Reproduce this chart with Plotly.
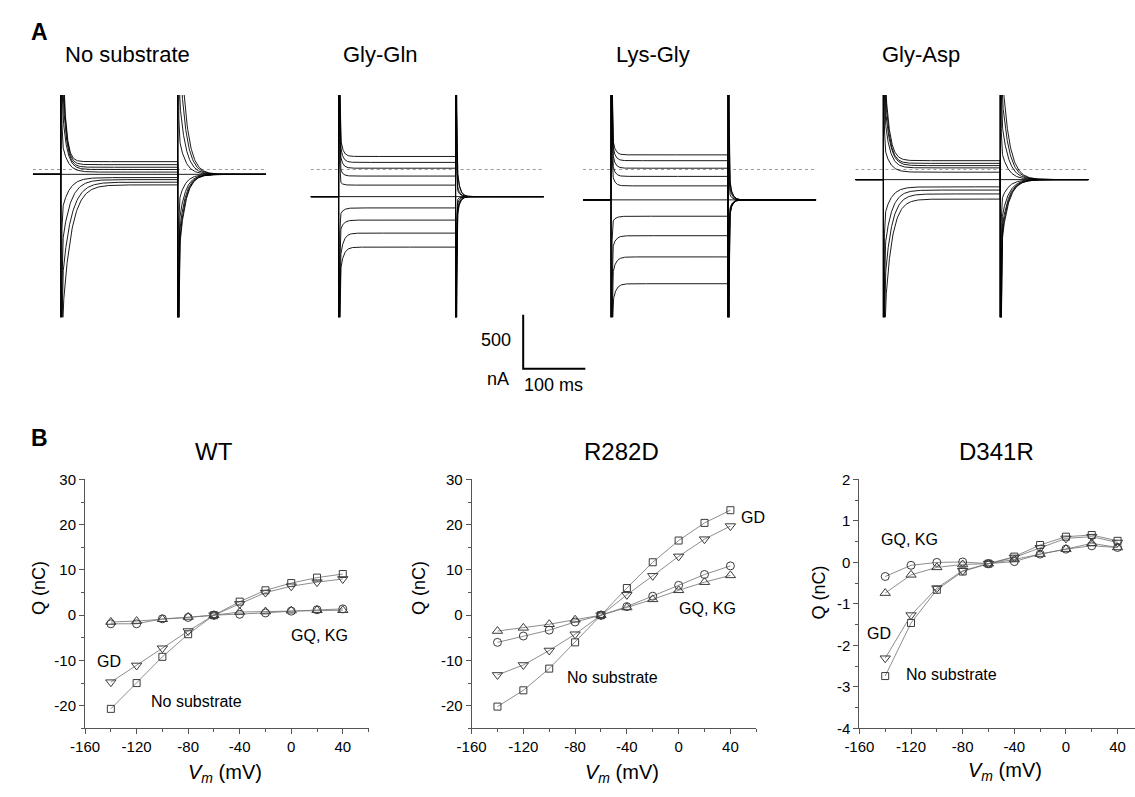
import numpy as np
import plotly.graph_objects as go

W, H = 1135, 797
FONT = "Liberation Sans, Arial, Helvetica, sans-serif"
AXC = "#555555"

# ---------------- Panel B data: charge vs. membrane potential ----------------
VM = [-140, -120, -100, -80, -60, -40, -20, 0, 20, 40]

WT_NONE = [-20.7, -15.0, -9.2, -4.2, 0.0, 3.0, 5.5, 7.1, 8.3, 9.1]
WT_GD = [-14.8, -11.1, -7.3, -3.5, 0.0, 2.5, 5.0, 6.4, 7.3, 8.0]
WT_GQ = [-1.9, -1.9, -0.8, -0.5, 0.0, 0.2, 0.5, 0.9, 1.2, 1.4]
WT_KG = [-1.5, -1.3, -0.9, -0.4, 0.0, 0.7, 0.8, 1.0, 1.1, 1.1]

R282D_NONE = [-20.2, -16.6, -11.8, -6.0, 0.0, 6.0, 11.7, 16.5, 20.4, 23.2]
R282D_GD = [-13.2, -11.0, -7.8, -4.2, 0.0, 4.5, 8.7, 13.0, 16.8, 19.7]
R282D_GQ = [-6.0, -4.6, -3.3, -1.5, 0.0, 1.9, 4.2, 6.6, 9.0, 10.9]
R282D_KG = [-3.5, -2.8, -2.0, -1.0, 0.0, 1.7, 3.5, 5.5, 7.3, 8.8]

D341R_NONE = [-2.74, -1.46, -0.66, -0.22, -0.03, 0.14, 0.42, 0.62, 0.66, 0.52]
D341R_GD = [-2.31, -1.27, -0.62, -0.20, -0.03, 0.12, 0.35, 0.58, 0.62, 0.48]
D341R_GQ = [-0.34, -0.07, 0.00, 0.01, -0.03, 0.02, 0.20, 0.32, 0.40, 0.36]
D341R_KG = [-0.74, -0.30, -0.12, -0.05, -0.03, 0.07, 0.20, 0.32, 0.46, 0.36]

# ---------------- Panel A data: current recordings (WT oocyte) ----------------
STEP_MV = [40, 20, 0, -20, -40, -60, -80, -100, -120, -140]
HOLD_MV = -60
PULSE_MS = 188.0
SWEEP_START_MS, SWEEP_END_MS = -45.0, 330.0
RECORDINGS = ["No substrate", "Gly-Gln", "Lys-Gly", "Gly-Asp"]

# steady-state current at the end of each step (nA)
ISS_NONE = [73, 45, 21, 0, -24, -45, -75, -94, -118, -143]
ISS_GQ = [121, 66, 12, -61, -145, -252, -357, -470, -591, -721]
ISS_KG = [136, 82, 12, -64, -152, -282, -434, -615, -812, -1061]
ISS_GD = [82, 57, 36, 15, -25, -94, -161, -191, -227, -275]

# relaxation time constants of the on-transients (ms)
TAU_ON_NONE = [5, 5.5, 6, 7, 9, 10, 12, 13, 14, 14]
TAU_ON_GQ = [4, 4, 4, 4, 4, 5, 5, 5, 5, 5]
TAU_ON_KG = [4, 4, 4, 4, 4, 5, 5, 5, 5, 5]
TAU_ON_GD = [7, 7, 8, 8, 9, 10, 11, 11, 11, 11]
# off-transient time constant on return to the holding potential (ms)
TAU_OFF = [10, 4, 4, 11]

# transient charge moved by each step (nC), taken from the WT Q-V data
Q_SOURCE = [WT_NONE, WT_GQ, WT_KG, WT_GD]

# fast capacitive spike
CAP_NA_PER_MV = 300.0
TAU_CAP_MS = 0.5

# scale bar
SCALE_NA = 500
SCALE_MS = 100

# drawing geometry of panel A
PX_PER_MS = 0.63
PX_PER_NA = 0.11
ONSET_PX = [46.5, 328, 604, 880]
ZERO_PX = 164
TRACE_TOP_PX, TRACE_BOT_PX = 88, 315


def px(x):
    return x / W


def py(y):
    return 1 - y / H


def sweep(i_hold, i_ss, q_nc, tau_on, tau_off, dv):
    t_on = np.concatenate([np.arange(0, 15, 0.1), np.arange(15, PULSE_MS, 1.0), [PULSE_MS]])
    post = SWEEP_END_MS - PULSE_MS
    t_off = np.concatenate([np.arange(0, 15, 0.1), np.arange(15, post, 1.0), [post]])
    a_on = q_nc * 1000.0 / tau_on
    a_off = q_nc * 1000.0 / tau_off
    i_on = i_ss + a_on * np.exp(-t_on / tau_on) + CAP_NA_PER_MV * dv * np.exp(-t_on / TAU_CAP_MS)
    i_off = i_hold - a_off * np.exp(-t_off / tau_off) - CAP_NA_PER_MV * dv * np.exp(-t_off / TAU_CAP_MS)
    t = np.concatenate([[SWEEP_START_MS, 0.0], t_on, PULSE_MS + t_off])
    i = np.concatenate([[i_hold, i_hold], i_on, i_off])
    return t, i


fig = go.Figure()
layout_axes = {}

ISS_ALL = [ISS_NONE, ISS_GQ, ISS_KG, ISS_GD]
TAU_ON_ALL = [TAU_ON_NONE, TAU_ON_GQ, TAU_ON_KG, TAU_ON_GD]

y_lo = (ZERO_PX - TRACE_BOT_PX) / PX_PER_NA
y_hi = (ZERO_PX - TRACE_TOP_PX) / PX_PER_NA

for k, name in enumerate(RECORDINGS):
    n = k + 1
    xa, ya = f"x{n}", f"y{n}"
    iss = ISS_ALL[k]
    i_hold = iss[STEP_MV.index(HOLD_MV)]
    qmap = dict(zip(VM, Q_SOURCE[k]))
    # zero-current reference
    fig.add_trace(go.Scatter(x=[SWEEP_START_MS, SWEEP_END_MS], y=[0, 0], mode="lines",
                             line=dict(color="#9a9a9a", width=1, dash="dot"),
                             xaxis=xa, yaxis=ya, hoverinfo="skip"))
    for j, v in enumerate(STEP_MV):
        dv = v - HOLD_MV
        q = qmap[v] if v != HOLD_MV else 0.0
        t, i = sweep(i_hold, iss[j], q, TAU_ON_ALL[k][j], TAU_OFF[k], dv)
        fig.add_trace(go.Scatter(x=t, y=i, mode="lines",
                                 line=dict(color="black", width=0.9),
                                 xaxis=xa, yaxis=ya, hoverinfo="skip"))
    x0 = ONSET_PX[k] + SWEEP_START_MS * PX_PER_MS
    x1 = ONSET_PX[k] + SWEEP_END_MS * PX_PER_MS
    layout_axes[f"xaxis{n}"] = dict(domain=[px(x0), px(x1)], range=[SWEEP_START_MS, SWEEP_END_MS],
                                    anchor=ya, visible=False)
    layout_axes[f"yaxis{n}"] = dict(domain=[py(TRACE_BOT_PX), py(TRACE_TOP_PX)], range=[y_lo, y_hi],
                                    anchor=xa, visible=False)

# scale bar on its own axis pair with the same scaling
SB_X0, SB_X1, SB_ORIGIN_X = 505, 600, 515
SB_Y0, SB_Y1, SB_ORIGIN_Y = 300, 380, 367.5
fig.add_trace(go.Scatter(x=[0, 0, SCALE_MS], y=[SCALE_NA, 0, 0], mode="lines",
                         line=dict(color="black", width=2), xaxis="x8", yaxis="y8",
                         hoverinfo="skip"))
layout_axes["xaxis8"] = dict(domain=[px(SB_X0), px(SB_X1)],
                             range=[-(SB_ORIGIN_X - SB_X0) / PX_PER_MS, (SB_X1 - SB_ORIGIN_X) / PX_PER_MS],
                             anchor="y8", visible=False)
layout_axes["yaxis8"] = dict(domain=[py(SB_Y1), py(SB_Y0)],
                             range=[-(SB_Y1 - SB_ORIGIN_Y) / PX_PER_NA, (SB_ORIGIN_Y - SB_Y0) / PX_PER_NA],
                             anchor="x8", visible=False)

# ---------------- Panel B plots ----------------
SYMBOLS = ["square-open", "triangle-down-open", "circle-open", "triangle-up-open"]
SIZES = [7, 9, 8, 9]
PANELS_B = [
    dict(series=[WT_NONE, WT_GD, WT_GQ, WT_KG], xpx=(71, 358.3), xr=[-160, 60], yr=[-25, 30],
         yt=[-20, -10, 0, 10, 20, 30], ymin=5),
    dict(series=[R282D_NONE, R282D_GD, R282D_GQ, R282D_KG], xpx=(462.7, 751.2), xr=[-160, 60], yr=[-25, 30],
         yt=[-20, -10, 0, 10, 20, 30], ymin=5),
    dict(series=[D341R_NONE, D341R_GD, D341R_GQ, D341R_KG], xpx=(855.7, 1135), xr=[-160, 53.5], yr=[-4, 2],
         yt=[-4, -3, -2, -1, 0, 1, 2], ymin=0.5),
]
X_TICKS = [-160, -120, -80, -40, 0, 40]
B_TOP_PX, B_BOT_PX = 480.7, 735

for p, spec in enumerate(PANELS_B):
    n = p + 5
    xa, ya = f"x{n}", f"y{n}"
    for s, vals in enumerate(spec["series"]):
        fig.add_trace(go.Scatter(x=VM, y=vals, mode="lines+markers",
                                 line=dict(color="#707070", width=0.8),
                                 marker=dict(symbol=SYMBOLS[s], size=SIZES[s], color="#3a3a3a",
                                             line=dict(width=1, color="#3a3a3a")),
                                 xaxis=xa, yaxis=ya, hoverinfo="skip"))
    tickfont = dict(family=FONT, size=15, color="black")
    layout_axes[f"xaxis{n}"] = dict(
        domain=[px(spec["xpx"][0]), px(spec["xpx"][1])], range=spec["xr"], anchor=ya,
        showline=True, linecolor=AXC, linewidth=1, ticks="outside", ticklen=5, tickcolor=AXC,
        tickmode="array", tickvals=X_TICKS, ticktext=[str(v) for v in X_TICKS],
        minor=dict(ticks="outside", ticklen=3, tickcolor=AXC, dtick=20, tick0=-160),
        showgrid=False, zeroline=False, tickfont=tickfont, fixedrange=True)
    ytxt = [("%g" % v) for v in spec["yt"]]
    layout_axes[f"yaxis{n}"] = dict(
        domain=[py(B_BOT_PX), py(B_TOP_PX)], range=spec["yr"], anchor=xa,
        showline=True, linecolor=AXC, linewidth=1, ticks="outside", ticklen=5, tickcolor=AXC,
        tickmode="array", tickvals=spec["yt"], ticktext=ytxt,
        minor=dict(ticks="outside", ticklen=3, tickcolor=AXC, dtick=spec["ymin"], tick0=0),
        showgrid=False, zeroline=False, tickfont=tickfont, fixedrange=True)

# ---------------- Text ----------------
ann = []


def text(x, y, s, size, bold=False, angle=0, xanchor="center"):
    ann.append(dict(x=px(x), y=py(y), xref="paper", yref="paper", text=f"<b>{s}</b>" if bold else s,
                    showarrow=False, xanchor=xanchor, yanchor="middle", textangle=angle,
                    font=dict(family=FONT, size=size, color="black")))


text(25, 24, "A", 23, bold=True)
text(25, 438, "B", 23, bold=True)

for cx, name in zip([114, 370, 647, 918], RECORDINGS):
    text(cx, 47, name, 22)

text(505, 338, "500", 18, xanchor="right")
text(503, 378, "nA", 18, xanchor="right")
text(546, 384, "100 ms", 18)

for cx, t in zip([202, 615, 995], ["WT", "R282D", "D341R"]):
    text(cx, 452, t, 24)
for cx, cy in [(25, 592), (410, 592), (815, 596)]:
    text(cx, cy, "Q (nC)", 18, angle=-90)
for cx, cy in [(213, 781), (615, 781), (1003, 779)]:
    text(cx, cy, "<i>V</i><sub><i>m</i></sub> (mV)", 20)

LBL = 16
text(309, 640, "GQ, KG", LBL)
text(95, 667, "GD", LBL)
text(184, 708, "No substrate", LBL)
text(748, 520, "GD", LBL)
text(702, 613, "GQ, KG", LBL)
text(606, 683, "No substrate", LBL)
text(906, 542, "GQ, KG", LBL)
text(876, 638, "GD", LBL)
text(949, 680, "No substrate", LBL)

fig.update_layout(width=W, height=H, autosize=False, margin=dict(l=0, r=0, t=0, b=0),
                  paper_bgcolor="white", plot_bgcolor="white", showlegend=False,
                  font=dict(family=FONT, color="black"), annotations=ann, **layout_axes)

fig.write_html("out.html")
